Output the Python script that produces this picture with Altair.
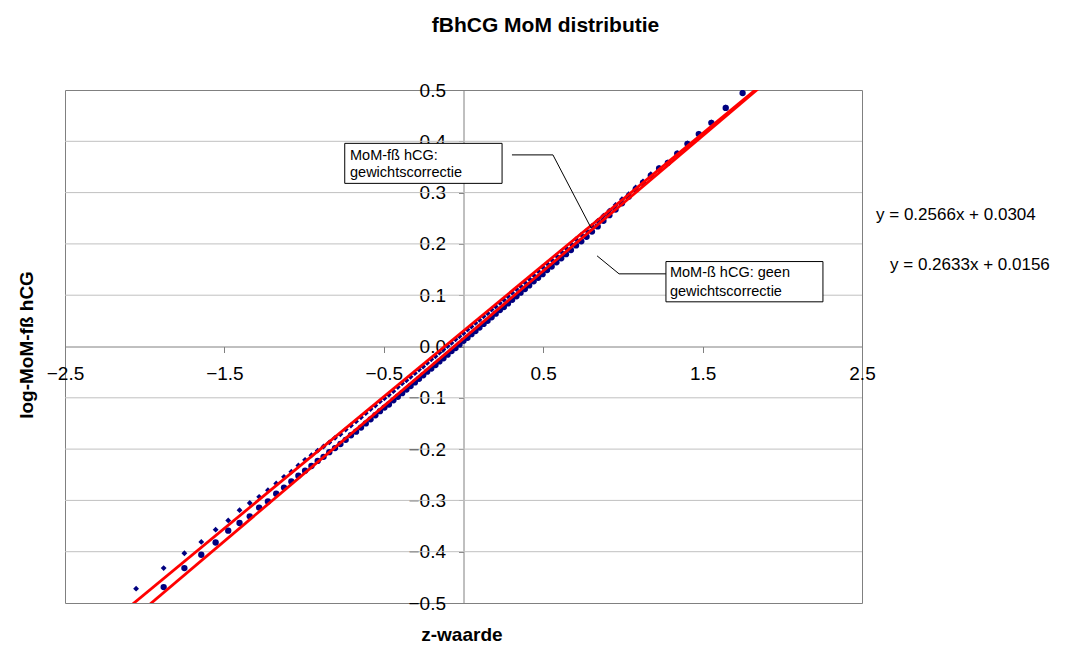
import altair as alt
import pandas as pd

# Normal scores (z) for the percentiles 2..96 of the MoM distribution
z_scores = [-2.054, -1.881, -1.751, -1.645, -1.555, -1.476, -1.405, -1.341, -1.282, -1.227,
            -1.175, -1.126, -1.080, -1.036, -0.994, -0.954, -0.915, -0.878, -0.842, -0.806,
            -0.772, -0.739, -0.706, -0.674, -0.643, -0.613, -0.583, -0.553, -0.524, -0.496,
            -0.468, -0.440, -0.412, -0.385, -0.358, -0.332, -0.305, -0.279, -0.253, -0.228,
            -0.202, -0.176, -0.151, -0.126, -0.100, -0.075, -0.050, -0.025, 0.000, 0.025,
            0.050, 0.075, 0.100, 0.126, 0.151, 0.176, 0.202, 0.228, 0.253, 0.279,
            0.305, 0.332, 0.358, 0.385, 0.412, 0.440, 0.468, 0.496, 0.524, 0.553,
            0.583, 0.613, 0.643, 0.674, 0.706, 0.739, 0.772, 0.806, 0.842, 0.878,
            0.915, 0.954, 0.994, 1.036, 1.080, 1.126, 1.175, 1.227, 1.282, 1.341,
            1.405, 1.476, 1.555, 1.645, 1.751]

# log-MoM fβ hCG with weight correction (percentiles 2..96)
logmom_gewicht = [-0.472, -0.432, -0.403, -0.381, -0.357, -0.339, -0.319, -0.305, -0.293, -0.280,
                  -0.267, -0.254, -0.244, -0.232, -0.221, -0.212, -0.203, -0.195, -0.187, -0.178,
                  -0.171, -0.162, -0.154, -0.146, -0.138, -0.130, -0.122, -0.115, -0.107, -0.101,
                  -0.094, -0.087, -0.079, -0.072, -0.066, -0.059, -0.052, -0.045, -0.039, -0.032,
                  -0.025, -0.019, -0.012, -0.006, 0.001, 0.007, 0.014, 0.020, 0.026, 0.033,
                  0.039, 0.046, 0.052, 0.059, 0.065, 0.072, 0.078, 0.085, 0.091, 0.098,
                  0.105, 0.112, 0.118, 0.125, 0.132, 0.139, 0.147, 0.155, 0.162, 0.169,
                  0.177, 0.185, 0.192, 0.200, 0.209, 0.218, 0.226, 0.235, 0.245, 0.255,
                  0.265, 0.276, 0.287, 0.297, 0.310, 0.322, 0.336, 0.348, 0.359, 0.377,
                  0.396, 0.415, 0.437, 0.466, 0.496]

# log-MoM β hCG without weight correction (percentiles 3..96)
logmom_geen = [-0.469, -0.432, -0.406, -0.382, -0.359, -0.344, -0.331, -0.314, -0.302, -0.287,
               -0.275, -0.263, -0.252, -0.242, -0.233, -0.223, -0.215, -0.206, -0.198, -0.190,
               -0.182, -0.173, -0.166, -0.158, -0.150, -0.142, -0.134, -0.126, -0.119, -0.113,
               -0.105, -0.098, -0.091, -0.084, -0.077, -0.070, -0.063, -0.056, -0.049, -0.043,
               -0.036, -0.029, -0.023, -0.016, -0.009, -0.003, 0.004, 0.011, 0.017, 0.024,
               0.030, 0.037, 0.044, 0.050, 0.057, 0.064, 0.071, 0.077, 0.084, 0.091,
               0.098, 0.105, 0.112, 0.119, 0.127, 0.134, 0.141, 0.149, 0.156, 0.164,
               0.172, 0.180, 0.188, 0.197, 0.205, 0.214, 0.224, 0.234, 0.245, 0.256,
               0.267, 0.279, 0.292, 0.306, 0.319, 0.333, 0.347, 0.358, 0.376, 0.395,
               0.414, 0.436, 0.465, 0.494]

# Linear trend lines (slope, intercept)
trend_gewicht = (0.2566, 0.0304)
trend_geen = (0.2633, 0.0156)

x_ticks = [-2.5, -1.5, -0.5, 0.5, 1.5, 2.5]
y_ticks = [-0.5, -0.4, -0.3, -0.2, -0.1, 0.0, 0.1, 0.2, 0.3, 0.4, 0.5]
x_range = [-2.5, 2.5]
y_range = [-0.5, 0.5]

W, H = 797, 513
FONT = "Liberation Sans"
NAVY = "#000080"

xs = alt.Scale(domain=x_range, nice=False, zero=False)
ys = alt.Scale(domain=y_range, nice=False, zero=False)

# axes crossing at the origin (shared by every layer)
x_axis = alt.Axis(values=x_ticks, format=".1f", offset=-H / 2, grid=False, title=None,
                  domainColor="#808080", tickColor="#808080", tickSize=6,
                  labelPadding=12, labelFontSize=19, labelFont=FONT, labelColor="black",
                  labelFlush=False, labelOverlap=False)
y_axis = alt.Axis(values=y_ticks, format=".1f", offset=-W / 2, grid=False, title=None,
                  domainColor="#808080", tickColor="#808080", tickSize=5,
                  labelPadding=13, labelFontSize=19, labelFont=FONT, labelColor="black",
                  labelFlush=False, labelOverlap=False)


def X(field):
    return alt.X(field, scale=xs, axis=x_axis)


def Y(field):
    return alt.Y(field, scale=ys, axis=y_axis)


# horizontal gridlines
grid_df = pd.DataFrame({"g": [v for v in y_ticks if abs(v) < 0.45 and v != 0.0],
                        "a": x_range[0], "b": x_range[1]})
grid = alt.Chart(grid_df).mark_rule(color="#c0c0c0", strokeWidth=1).encode(
    y=Y("g:Q"), x=X("a:Q"), x2="b:Q",
)

pts_a = pd.DataFrame({"z": z_scores, "v": logmom_gewicht})
pts_b = pd.DataFrame({"z": z_scores[1:], "v": logmom_geen})

diamonds = alt.Chart(pts_a).mark_point(shape="diamond", filled=True, size=34,
                                       color=NAVY, opacity=1, clip=True).encode(
    x=X("z:Q"), y=Y("v:Q"),
)
circles = alt.Chart(pts_b).mark_point(shape="circle", filled=True, size=40,
                                      color=NAVY, opacity=1, clip=True).encode(
    x=X("z:Q"), y=Y("v:Q"),
)

trend_rows = []
for name, (a, b) in [("gewicht", trend_gewicht), ("geen", trend_geen)]:
    for x in x_range:
        trend_rows.append({"reeks": name, "z": x, "v": a * x + b})
trend = alt.Chart(pd.DataFrame(trend_rows)).mark_line(color="#ff0000", strokeWidth=2.8,
                                                     clip=True).encode(
    x=X("z:Q"), y=Y("v:Q"), detail="reeks:N",
)

# data-label callouts
boxes = pd.DataFrame({
    "x1": [-0.745, 1.270], "x2": [0.242, 2.255],
    "y1": [0.396, 0.1656], "y2": [0.318, 0.0871],
})
box_marks = alt.Chart(boxes).mark_rect(fill="white", stroke="black", strokeWidth=1).encode(
    x=X("x1:Q"), x2="x2:Q", y=Y("y1:Q"), y2="y2:Q",
)
labels = pd.DataFrame({
    "x": [-0.712, -0.712, 1.295, 1.295],
    "y": [0.3715, 0.3384, 0.1436, 0.1066],
    "t": ["MoM-fß hCG:", "gewichtscorrectie", "MoM-ß hCG: geen", "gewichtscorrectie"],
})
label_marks = alt.Chart(labels).mark_text(align="left", baseline="middle", font=FONT,
                                          fontSize=14.5, color="black").encode(
    x=X("x:Q"), y=Y("y:Q"), text="t:N",
)
leaders = pd.DataFrame({
    "k": ["a", "a", "a", "b", "b", "b"],
    "i": [0, 1, 2, 0, 1, 2],
    "x": [0.304, 0.561, 0.800, 1.270, 0.976, 0.838],
    "y": [0.3735, 0.3735, 0.2313, 0.1416, 0.1416, 0.1767],
})
leader_marks = alt.Chart(leaders).mark_line(color="black", strokeWidth=1).encode(
    x=X("x:Q"), y=Y("y:Q"), detail="k:N", order="i:Q",
)

eq = pd.DataFrame({
    "x": [2.588, 2.676],
    "y": [0.2566, 0.1592],
    "t": ["y = 0.2566x + 0.0304", "y = 0.2633x + 0.0156"],
})
eq_marks = alt.Chart(eq).mark_text(align="left", baseline="middle", font=FONT,
                                   fontSize=17, color="black").encode(
    x=X("x:Q"), y=Y("y:Q"), text="t:N",
)

# axis titles
titles = pd.DataFrame({
    "x": [-0.01, -2.738],
    "y": [-0.5617, 0.003],
    "t": ["z-waarde", "log-MoM-fß hCG"],
    "ang": [0, 270],
})
title_marks = alt.Chart(titles).mark_text(align="center", baseline="middle", font=FONT,
                                          fontSize=19, fontWeight="bold",
                                          color="black").encode(
    x=X("x:Q"), y=Y("y:Q"), text="t:N",
    angle=alt.Angle("ang:Q", scale=None),
)

chart = alt.layer(
    grid, diamonds, circles, trend, leader_marks, box_marks, label_marks,
    eq_marks, title_marks
).properties(
    width=W, height=H,
    title=alt.TitleParams("fBhCG MoM distributie", font=FONT, fontSize=21,
                          fontWeight="bold", color="black", anchor="middle", dx=82,
                          dy=4, offset=49),
    autosize=alt.AutoSizeParams(type="none"),
    padding={"left": 65, "top": 90, "right": 204, "bottom": 45},
    background="white",
).configure_view(stroke="#808080", strokeWidth=1)

chart.save("out.html", embed_options={"renderer": "svg", "actions": False})
